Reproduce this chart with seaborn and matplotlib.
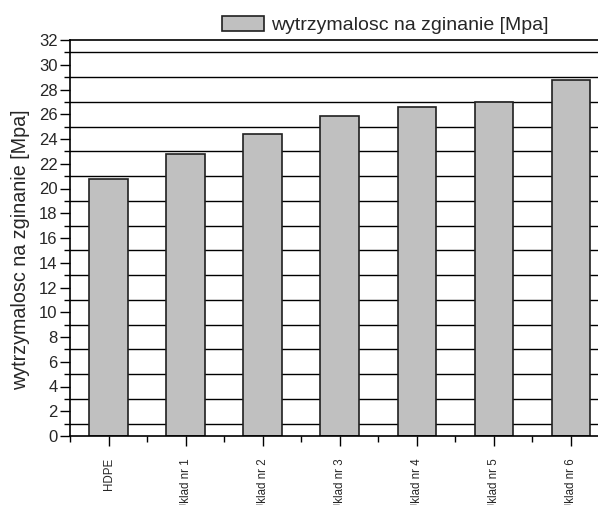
import pandas as pd
import matplotlib.pyplot as plt
import seaborn as sns
from matplotlib.ticker import MultipleLocator

categories = ['HDPE', 'Uklad nr 1', 'Uklad nr 2', 'Uklad nr 3', 'Uklad nr 4', 'Uklad nr 5', 'Uklad nr 6']
values = [20.8, 22.8, 24.4, 25.85, 26.6, 27.0, 28.8]
series_name = 'wytrzymalosc na zginanie [Mpa]'

data = pd.DataFrame({'sample': categories, 'value': values})

sns.set_style('ticks')
plt.rcParams['font.family'] = ['Liberation Sans', 'DejaVu Sans']

fig = plt.figure(figsize=(5.98, 5.05), dpi=100)
ax = fig.add_axes([70 / 598, 69 / 505, 539.5 / 598, 396 / 505])

ax.set_axisbelow(True)
ax.yaxis.set_major_locator(MultipleLocator(2))
ax.yaxis.set_minor_locator(MultipleLocator(1))
ax.grid(False)
# grid lines sit on the odd (minor) values
for v in range(1, 32, 2):
    ax.axhline(v, color='black', lw=1.0, zorder=0)

sns.barplot(ax=ax, x='sample', y='value', data=data, color='#c0c0c0',
            edgecolor='#202020', linewidth=1.2, width=0.5, saturation=1,
            label=series_name, zorder=2)

ax.set_ylim(0, 32)
ax.set_xlim(-0.5, 6.5)
ax.set_xticks(range(len(categories)))
ax.set_xticks([i + 0.5 for i in range(-1, len(categories))], minor=True)
ax.set_xticklabels(categories, rotation=90, fontsize=8.3, va='top')

ax.tick_params(axis='both', which='major', direction='out', length=7, width=1, color='black')
ax.tick_params(axis='both', which='minor', direction='out', length=4, width=1, color='black')
ax.tick_params(axis='x', which='major', pad=9)
ax.tick_params(axis='y', labelsize=12, pad=2)

for s in ax.spines.values():
    s.set_color('black')
    s.set_linewidth(1.2)

ax.set_xlabel('')
ax.set_ylabel(series_name, fontsize=14.2)
ax.yaxis.set_label_coords(-0.074, 0.47)

ax.legend(loc='center', bbox_to_anchor=(385 / 598, 480 / 505), bbox_transform=fig.transFigure,
          frameon=False, fontsize=14, handlelength=2.15, handleheight=0.82, handletextpad=0.36)

fig.savefig('out.png', dpi=100)
